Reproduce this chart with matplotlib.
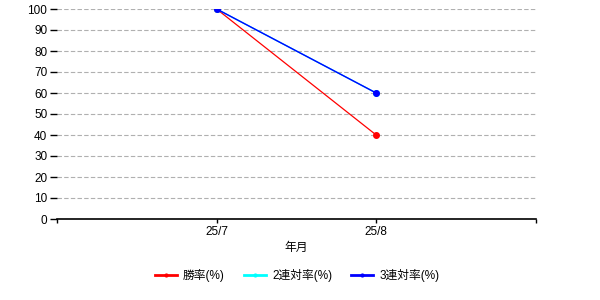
import numpy as np
import matplotlib.pyplot as plt

plt.rcParams['font.family'] = ['Liberation Sans', 'Noto Sans CJK JP', 'DejaVu Sans']

months = ['25/7', '25/8']
win_rate = [100, 40]
top2_rate = [100, 60]
top3_rate = [100, 60]
y_ticks = list(range(0, 101, 10))


def main():
    fig = plt.figure(figsize=(6, 3), dpi=100)
    ax = fig.add_axes([0.095, 0.27, 0.798, 0.70])

    x = np.arange(1, len(months) + 1)
    ax.plot(x, win_rate, color='#ff0000', lw=0.9, marker='o', ms=4, label='勝率(%)')
    ax.plot(x, top2_rate, color='#00ffff', lw=1, marker='o', ms=4, label='2連対率(%)')
    ax.plot(x, top3_rate, color='#0000ff', lw=1, marker='o', ms=4, label='3連対率(%)')

    ax.set_xlim(0, len(months) + 1)
    ax.set_ylim(0, 100)
    ax.set_xticks([0] + list(x) + [len(months) + 1])
    ax.set_xticklabels([''] + months + [''])
    ax.set_yticks(y_ticks)
    ax.tick_params(axis='both', labelsize=8.5, width=1, pad=2, color='black')
    ax.tick_params(axis='y', length=5)
    ax.tick_params(axis='x', length=3)
    ax.grid(axis='y', color='#b0b0b0', linestyle=(0, (4, 2)), lw=0.8)
    ax.set_axisbelow(True)

    for side in ['left', 'right', 'top']:
        ax.spines[side].set_visible(False)
    ax.spines['bottom'].set_linewidth(1.2)

    ax.set_xlabel('年月', fontsize=8.5, labelpad=3)

    leg = fig.legend(loc='center', bbox_to_anchor=(0.495, 0.08), ncol=3, frameon=False,
                     fontsize=8.5, handlelength=1.9, columnspacing=1.6, handletextpad=0.5,
                     markerscale=0.5)
    for line in leg.get_lines():
        line.set_linewidth(2)

    fig.savefig('out.png', dpi=100)


if __name__ == "__main__":
    main()
